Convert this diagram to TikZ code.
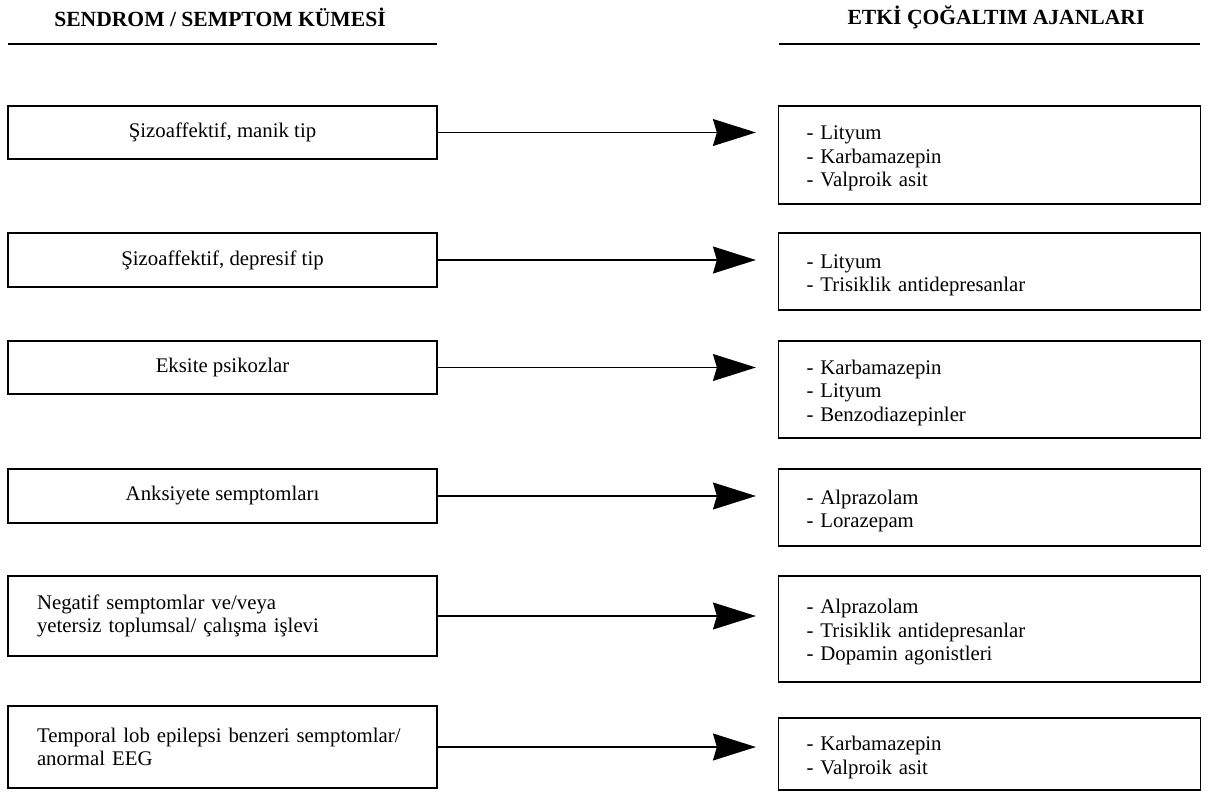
\documentclass[tikz,border=0pt]{standalone}
\usepackage{fontspec}
\setmainfont{Liberation Serif}
\usetikzlibrary{arrows.meta}
\begin{document}
\begin{tikzpicture}[x=1pt,y=-1pt,
  every node/.style={font=\fontsize{20.8}{23.5}\selectfont},
  header/.style={font=\fontsize{21.6}{24}\selectfont\bfseries},
  hline/.style={line width=1.6pt},
  lbox/.style={draw, line width=1.2pt, minimum width=429pt, inner sep=0pt, align=center},
  lboxl/.style={draw, line width=1.2pt, text width=371pt, inner xsep=29pt, inner ysep=0pt, align=left},
  rbox/.style={draw, line width=1.2pt, text width=366pt, inner xsep=28pt, inner ysep=0pt, align=left,
    execute at begin node={\rule{0pt}{21pt}}},
  conn/.style={line width=1.3pt, -{Stealth[length=43pt,width=27pt,inset=4pt]}, shorten >=22pt}
]
\useasboundingbox (0,0) rectangle (1210,792);
% headers
\node[header] (hl) at (220,17) {SENDROM / SEMPTOM KÜMESİ};
\node[header] (hr) at (996,17) {ETKİ ÇOĞALTIM AJANLARI};
\coordinate (hl1) at (8,44);
\coordinate (hl2) at (437,44);
\coordinate (hr1) at (779,44);
\coordinate (hr2) at (1200,44);
\draw[hline] (hl1) -- (hl2);
\draw[hline] (hr1) -- (hr2);

% left boxes
\node[lbox, minimum height=53pt] (L1) at (222.5,132.5) {Şizoaffektif, manik tip};
\node[lbox, minimum height=54pt] (L2) at (222.5,260) {Şizoaffektif, depresif tip};
\node[lbox, minimum height=53pt] (L3) at (222.5,367.5) {Eksite psikozlar};
\node[lbox, minimum height=54pt] (L4) at (222.5,496) {Anksiyete semptomları};
\node[lboxl, minimum height=80pt] (L5) at (222.5,616) {Negatif semptomlar ve/veya\\yetersiz toplumsal/ çalışma işlevi};
\node[lboxl, minimum height=82pt] (L6) at (222.5,747) {Temporal lob epilepsi benzeri semptomlar/\\anormal EEG};

% right boxes
\node[rbox, minimum height=98pt] (R1) at (989.5,155) {- Lityum\\- Karbamazepin\\- Valproik asit};
\node[rbox, minimum height=77pt] (R2) at (989.5,271.5) {- Lityum\\- Trisiklik antidepresanlar};
\node[rbox, minimum height=97pt] (R3) at (989.5,389.5) {- Karbamazepin\\- Lityum\\- Benzodiazepinler};
\node[rbox, minimum height=77pt] (R4) at (989.5,507.5) {- Alprazolam\\- Lorazepam};
\node[rbox, minimum height=106pt] (R5) at (989.5,629) {- Alprazolam\\- Trisiklik antidepresanlar\\- Dopamin agonistleri};
\node[rbox, minimum height=72pt] (R6) at (989.5,754) {- Karbamazepin\\- Valproik asit};

% connectors
\foreach \i in {1,...,6}{
  \draw[conn] (L\i.east) -- (L\i.east -| R\i.west);
}
\end{tikzpicture}
\end{document}
